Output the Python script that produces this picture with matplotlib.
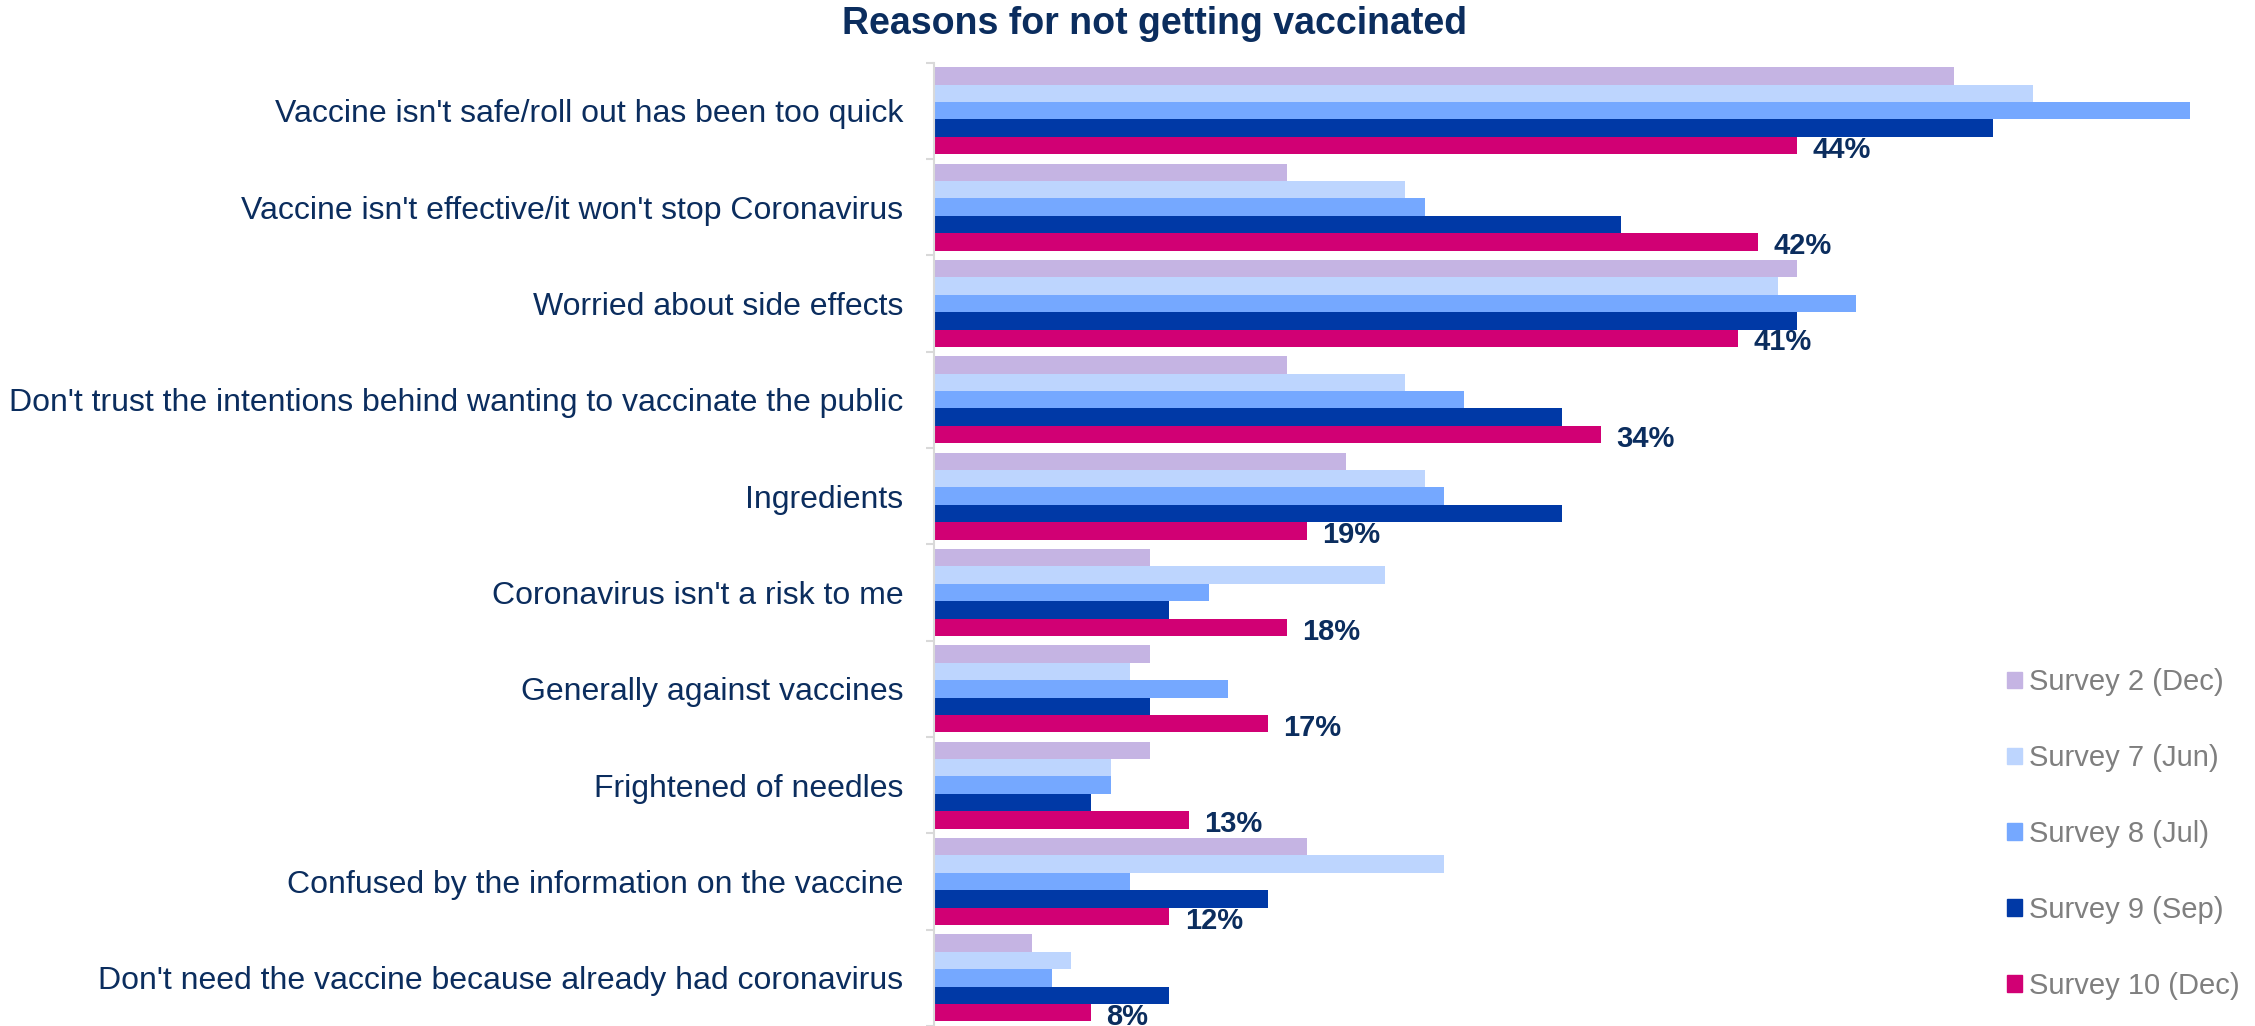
import numpy as np
import matplotlib.pyplot as plt
from matplotlib.patches import Patch

plt.rcParams['font.family'] = ['Liberation Sans', 'DejaVu Sans']

reasons = [
    "Vaccine isn't safe/roll out has been too quick",
    "Vaccine isn't effective/it won't stop Coronavirus",
    "Worried about side effects",
    "Don't trust the intentions behind wanting to vaccinate the public",
    "Ingredients",
    "Coronavirus isn't a risk to me",
    "Generally against vaccines",
    "Frightened of needles",
    "Confused by the information on the vaccine",
    "Don't need the vaccine because already had coronavirus",
]

survey_names = ['Survey 2 (Dec)', 'Survey 7 (Jun)', 'Survey 8 (Jul)',
                'Survey 9 (Sep)', 'Survey 10 (Dec)']

survey2 = [52, 18, 44, 18, 21, 11, 11, 11, 19, 5]
survey7 = [56, 24, 43, 24, 25, 23, 10, 9, 26, 7]
survey8 = [64, 25, 47, 27, 26, 14, 15, 9, 10, 6]
survey9 = [54, 35, 44, 32, 32, 12, 11, 8, 17, 12]
survey10 = [44, 42, 41, 34, 19, 18, 17, 13, 12, 8]

series = [survey2, survey7, survey8, survey9, survey10]
colors = ['#C5B4E3', '#BDD5FE', '#75A8FF', '#0039A6', '#D10074']
navy = '#0B2D5E'

fig = plt.figure(figsize=(22.55, 10.26), dpi=100)
ax = fig.add_axes([0.4142, 0.0, 0.5858, 0.939])

y = np.arange(len(reasons))
h = 0.181
for j, (vals, c) in enumerate(zip(series, colors)):
    ax.barh(y + (j - 2) * h, vals, height=h, color=c, label=survey_names[j])

# only the latest survey is labelled
for yi, v in zip(y + 2 * h, survey10):
    ax.annotate(f'{v}%', (v, yi), xytext=(11, -3), textcoords='offset points',
                ha='left', va='center', fontsize=21, fontweight='bold',
                color=navy, annotation_clip=False)

ax.set_xlim(0, 67.33)
ax.set_ylim(9.5, -0.5)
ax.set_yticks(y)
ax.set_yticklabels(reasons, fontsize=23, color=navy)
ax.tick_params(axis='y', which='major', length=0, pad=22)
ax.set_yticks(np.arange(-0.5, 10, 1), minor=True)
ax.tick_params(axis='y', which='minor', length=6, color='#D9D9D9', width=1.5)
ax.xaxis.set_visible(False)
for s in ['top', 'right', 'bottom']:
    ax.spines[s].set_visible(False)
ax.spines['left'].set_color('#D9D9D9')
ax.spines['left'].set_linewidth(1.5)

fig.text(1155 / 2255, 1 - 24 / 1026, 'Reasons for not getting vaccinated',
         ha='center', va='center', fontsize=27, fontweight='bold', color=navy)

handles = [Patch(color=c) for c in colors]
fig.legend(handles, survey_names, loc='center left',
           bbox_to_anchor=(2007 / 2255, 1 - 834 / 1026), frameon=False,
           fontsize=21, labelcolor='#7F7F7F', handlelength=0.5, handleheight=0.5,
           handletextpad=0.25, labelspacing=1.64, borderpad=0, borderaxespad=0)

fig.savefig('out.png', dpi=100)
